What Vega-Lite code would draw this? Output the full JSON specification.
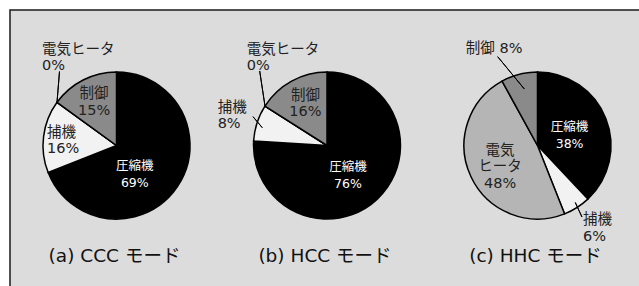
{
  "$schema": "https://vega.github.io/schema/vega-lite/v6.json",
  "width": 634,
  "height": 280,
  "autosize": {"type": "none"},
  "padding": {"left": 10, "top": 10, "right": 0, "bottom": 0},
  "background": "#ffffff",
  "config": {
    "view": {"fill": "#dcdcdc", "stroke": "#1a1a1a", "strokeWidth": 1.5},
    "text": {"font": "DejaVu Sans, Noto Sans CJK JP", "fontSize": 14.5, "color": "#222222", "baseline": "middle", "align": "center", "lineBreak": "\n", "lineHeight": 16.5}
  },
  "datasets": {
    "slices": [
      {"mode": "CCC", "category": "圧縮機", "value": 69, "k": 1, "label": "圧縮機\n69%"},
      {"mode": "CCC", "category": "捕機", "value": 16, "k": 2, "label": "捕機\n16%"},
      {"mode": "CCC", "category": "電気ヒータ", "value": 0, "k": 3, "label": "電気ヒータ\n0%"},
      {"mode": "CCC", "category": "制御", "value": 15, "k": 4, "label": "制御\n15%"},
      {"mode": "HCC", "category": "圧縮機", "value": 76, "k": 1, "label": "圧縮機\n76%"},
      {"mode": "HCC", "category": "捕機", "value": 8, "k": 2, "label": "捕機\n8%"},
      {"mode": "HCC", "category": "電気ヒータ", "value": 0, "k": 3, "label": "電気ヒータ\n0%"},
      {"mode": "HCC", "category": "制御", "value": 16, "k": 4, "label": "制御\n16%"},
      {"mode": "HHC", "category": "圧縮機", "value": 38, "k": 1, "label": "圧縮機\n38%"},
      {"mode": "HHC", "category": "捕機", "value": 6, "k": 2, "label": "捕機\n6%"},
      {"mode": "HHC", "category": "電気ヒータ", "value": 48, "k": 3, "label": "電気\nヒータ\n48%"},
      {"mode": "HHC", "category": "制御", "value": 8, "k": 4, "label": "制御 8%"}
    ],
    "captions": [
      {"mode": "CCC", "caption": "(a) CCC モード"},
      {"mode": "HCC", "caption": "(b) HCC モード"},
      {"mode": "HHC", "caption": "(c) HHC モード"}
    ]
  },
  "data": {"name": "slices"},
  "encoding": {
    "x": {"field": "mode", "type": "nominal", "scale": {"type": "point", "domain": ["CCC", "HCC", "HHC"], "padding": 0.506}, "axis": null}
  },
  "layer": [
    {
      "transform": [{"stack": "value", "groupby": ["mode"], "sort": [{"field": "k", "order": "ascending"}], "as": ["s", "e"]}],
      "mark": {"type": "arc", "radius": 73.5, "stroke": "#000000", "strokeWidth": 1.5, "yOffset": -4.5},
      "encoding": {
        "theta": {"field": "s", "type": "quantitative", "stack": null, "scale": {"domain": [0, 100]}},
        "theta2": {"field": "e"},
        "color": {"field": "category", "type": "nominal", "legend": null,
          "scale": {"domain": ["圧縮機", "捕機", "電気ヒータ", "制御"], "range": ["#000000", "#f2f2f2", "#b5b5b5", "#8a8a8a"]}}
      }
    },
    {
      "transform": [{"filter": "datum.mode === 'CCC' && datum.category === '電気ヒータ'"}],
      "mark": {"type": "arc", "filled": false, "stroke": "#000000", "strokeWidth": 1, "xOffset": -59.5, "yOffset": -47.7},
      "encoding": {"theta": {"value": 0.081}, "theta2": {"value": 0.081}, "radius": {"value": 30.9}, "radius2": {"value": 0}}
    },
    {
      "transform": [{"filter": "datum.mode === 'HCC' && datum.category === '電気ヒータ'"}],
      "mark": {"type": "arc", "filled": false, "stroke": "#000000", "strokeWidth": 1, "xOffset": -62, "yOffset": -43.9},
      "encoding": {"theta": {"value": 6.133}, "theta2": {"value": 6.133}, "radius": {"value": 35.5}, "radius2": {"value": 0}}
    },
    {
      "transform": [{"filter": "datum.mode === 'HCC' && datum.category === '捕機'"}],
      "mark": {"type": "arc", "filled": false, "stroke": "#000000", "strokeWidth": 1, "xOffset": -74, "yOffset": -33.3},
      "encoding": {"theta": {"value": 2.44}, "theta2": {"value": 2.44}, "radius": {"value": 14.4}, "radius2": {"value": 0}}
    },
    {
      "transform": [{"filter": "datum.mode === 'HHC' && datum.category === '制御'"}],
      "mark": {"type": "arc", "filled": false, "stroke": "#000000", "strokeWidth": 1, "xOffset": -39.8, "yOffset": -93.3},
      "encoding": {"theta": {"value": 2.452}, "theta2": {"value": 2.452}, "radius": {"value": 41.8}, "radius2": {"value": 0}}
    },
    {
      "transform": [{"filter": "datum.mode === 'HHC' && datum.category === '捕機'"}],
      "mark": {"type": "arc", "filled": false, "stroke": "#000000", "strokeWidth": 1, "xOffset": 37.8, "yOffset": 52.5},
      "encoding": {"theta": {"value": 2.709}, "theta2": {"value": 2.709}, "radius": {"value": 16}, "radius2": {"value": 0}}
    },
    {
      "transform": [
        {"stack": "value", "groupby": ["mode"], "sort": [{"field": "k", "order": "ascending"}], "as": ["s", "e"]},
        {"fold": ["s", "e"], "as": ["edge", "angle"]},
        {"aggregate": [{"op": "mean", "field": "angle", "as": "mid"}], "groupby": ["mode", "category", "label"]}
      ],
      "encoding": {
        "theta": {"field": "mid", "type": "quantitative", "stack": null, "scale": {"domain": [0, 100]}},
        "text": {"field": "label", "type": "nominal"}
      },
      "layer": [
        {"transform": [{"filter": "datum.mode === 'CCC' && datum.category === '圧縮機'"}],
         "mark": {"type": "text", "radius": 33, "dx": -9, "dy": 2, "yOffset": -4.5, "color": "#ffffff", "fontSize": 12.5}},
        {"transform": [{"filter": "datum.mode === 'CCC' && datum.category === '捕機'"}],
         "mark": {"type": "text", "radius": 70, "dy": -4, "yOffset": -4.5, "align": "left"}},
        {"transform": [{"filter": "datum.mode === 'CCC' && datum.category === '制御'"}],
         "mark": {"type": "text", "radius": 49.5, "dy": -7, "yOffset": -4.5}},
        {"transform": [{"filter": "datum.mode === 'CCC' && datum.category === '電気ヒータ'"}],
         "mark": {"type": "text", "radius": 100, "dx": 6.4, "dy": -37, "yOffset": -4.5, "align": "left"}},
        {"transform": [{"filter": "datum.mode === 'HCC' && datum.category === '圧縮機'"}],
         "mark": {"type": "text", "radius": 35, "dx": -3, "dy": -4, "yOffset": -4.5, "color": "#ffffff", "fontSize": 12.5}},
        {"transform": [{"filter": "datum.mode === 'HCC' && datum.category === '捕機'"}],
         "mark": {"type": "text", "radius": 115, "dy": -2, "yOffset": -4.5, "align": "left"}},
        {"transform": [{"filter": "datum.mode === 'HCC' && datum.category === '制御'"}],
         "mark": {"type": "text", "radius": 49, "dx": 2, "dy": -7, "yOffset": -4.5}},
        {"transform": [{"filter": "datum.mode === 'HCC' && datum.category === '電気ヒータ'"}],
         "mark": {"type": "text", "radius": 95, "dy": -45, "yOffset": -4.5, "align": "left"}},
        {"transform": [{"filter": "datum.mode === 'HHC' && datum.category === '圧縮機'"}],
         "mark": {"type": "text", "radius": 34.5, "dy": -5.5, "yOffset": -4.5, "color": "#ffffff", "fontSize": 12.5}},
        {"transform": [{"filter": "datum.mode === 'HHC' && datum.category === '捕機'"}],
         "mark": {"type": "text", "radius": 97, "dx": -6.5, "dy": -7, "yOffset": -4.5, "align": "left"}},
        {"transform": [{"filter": "datum.mode === 'HHC' && datum.category === '制御'"}],
         "mark": {"type": "text", "radius": 100, "dx": -18.5, "yOffset": -4.5}},
        {"transform": [{"filter": "datum.mode === 'HHC' && datum.category === '電気ヒータ'"}],
         "mark": {"type": "text", "radius": 43, "dx": 1.5, "dy": -13, "yOffset": -4.5}}
      ]
    },
    {
      "data": {"name": "captions"},
      "mark": {"type": "text", "fontSize": 18.5, "dx": -2, "dy": 106, "color": "#111111"},
      "encoding": {"text": {"field": "caption", "type": "nominal"}}
    }
  ]
}
